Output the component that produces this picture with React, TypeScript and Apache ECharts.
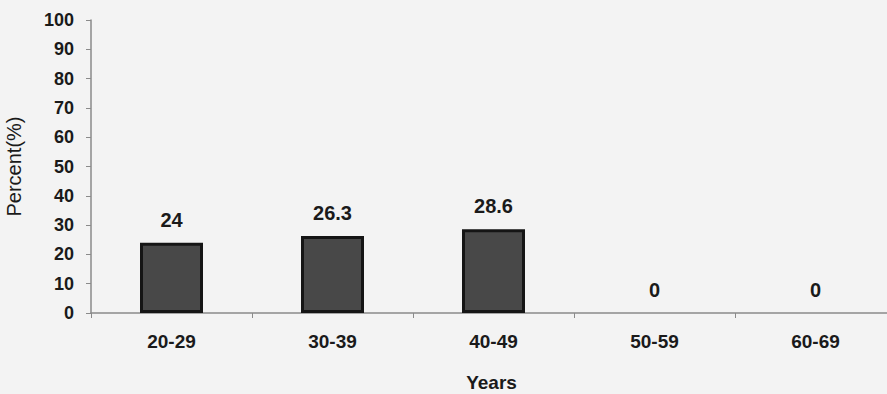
import React, { useEffect, useRef } from "react";
import * as echarts from "echarts";

const categories = ["20-29", "30-39", "40-49", "50-59", "60-69"];
const percentValues = [24, 26.3, 28.6, 0, 0];
const yTicks = [0, 10, 20, 30, 40, 50, 60, 70, 80, 90, 100];

export default function App() {
  const ref = useRef<HTMLDivElement>(null);
  useEffect(() => {
    if (!ref.current) return;
    const chart = echarts.init(ref.current, null, { renderer: "svg" });
    const font = "'Liberation Sans', Arial, sans-serif";
    const barData = percentValues.map((v) =>
      v === 0
        ? { value: v, itemStyle: { borderWidth: 0, color: "rgba(0,0,0,0)" } }
        : { value: v }
    );
    chart.setOption({
      animation: false,
      backgroundColor: "#f3f3f3",
      grid: { left: 91, top: 20, right: -9, bottom: 81, containLabel: false, outerBoundsMode: "none" },
      xAxis: {
        type: "category",
        data: categories,
        name: "Years",
        nameLocation: "middle",
        nameGap: 60,
        nameTextStyle: { fontFamily: font, fontSize: 19, fontWeight: "bold", color: "#1a1a1a", padding: [0, 0, 0, -4] },
        axisLine: { lineStyle: { color: "#8a8a8a", width: 1.5 } },
        axisTick: { show: true, alignWithLabel: false, length: 5, lineStyle: { color: "#8a8a8a" } },
        axisLabel: { fontFamily: font, fontSize: 19, fontWeight: "bold", color: "#1a1a1a", margin: 19 },
      },
      yAxis: {
        type: "value",
        min: yTicks[0],
        max: yTicks[yTicks.length - 1],
        interval: 10,
        name: "Percent(%)",
        nameLocation: "middle",
        nameRotate: 90,
        nameGap: 67,
        nameTextStyle: { fontFamily: font, fontSize: 20, color: "#1a1a1a" },
        splitLine: { show: false },
        axisLine: { show: true, lineStyle: { color: "#8a8a8a", width: 1.5 } },
        axisTick: { show: true, length: 5, lineStyle: { color: "#8a8a8a" } },
        axisLabel: { fontFamily: font, fontSize: 18, fontWeight: "bold", color: "#1a1a1a", margin: 17 },
      },
      series: [
        {
          type: "bar",
          data: barData,
          barWidth: 63,
          itemStyle: { color: "#484848", borderColor: "#151515", borderWidth: 3 },
          label: {
            show: true,
            position: "top",
            distance: 13,
            fontFamily: font,
            fontSize: 20,
            fontWeight: "bold",
            color: "#1a1a1a",
          },
        },
      ],
    });
    return () => chart.dispose();
  }, []);
  return (
    <div
      ref={ref}
      style={{ position: "fixed", left: 0, top: 0, width: 887, height: 394 }}
    />
  );
}
